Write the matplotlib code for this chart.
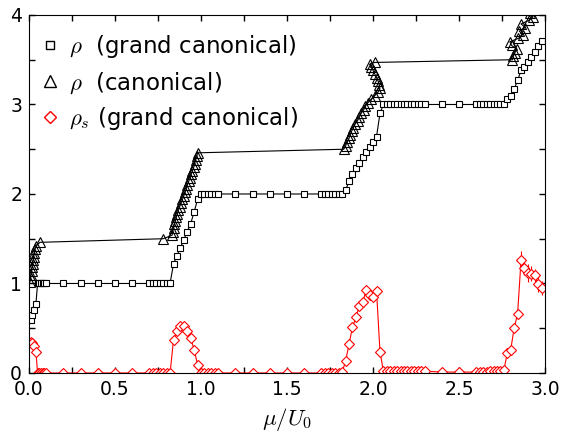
import numpy as np
import matplotlib
matplotlib.use("Agg")
import matplotlib.pyplot as plt
from matplotlib.lines import Line2D
from matplotlib.ticker import MultipleLocator

plt.rcParams["mathtext.fontset"] = "cm"
plt.rcParams["font.family"] = "DejaVu Sans"

# --- Grand canonical data (mu, rho, rho_s) --- #
mu_gc = [0.01, 0.02, 0.03, 0.04,
         0.05, 0.06, 0.07, 0.08, 0.09, 0.10,
         0.2, 0.3, 0.4, 0.5, 0.6,
         0.70, 0.72, 0.74, 0.76, 0.78, 0.80, 0.82,
         0.84, 0.86, 0.88, 0.90, 0.92, 0.94, 0.96, 0.98,
         1.00, 1.02, 1.04, 1.06, 1.08, 1.10,
         1.2, 1.3, 1.4, 1.5, 1.6,
         1.70, 1.72, 1.74, 1.76, 1.78, 1.80, 1.82,
         1.84, 1.86, 1.88, 1.90, 1.92, 1.94, 1.96, 1.98, 2.00, 2.02, 2.04,
         2.06, 2.08, 2.10, 2.12, 2.14, 2.16, 2.18, 2.20, 2.22, 2.24, 2.26, 2.28, 2.30,
         2.4, 2.5,
         2.60, 2.62, 2.64, 2.66, 2.68, 2.70, 2.72, 2.74, 2.76,
         2.78, 2.80, 2.82, 2.84, 2.86, 2.88, 2.90, 2.92, 2.94, 2.96, 2.98]

rho_gc = [0.59, 0.65, 0.70, 0.77,
          1.0, 1.0, 1.0, 1.0, 1.0, 1.0,
          1.0, 1.0, 1.0, 1.0, 1.0,
          1.0, 1.0, 1.0, 1.0, 1.0, 1.0, 1.0,
          1.22, 1.31, 1.40, 1.49, 1.58, 1.67, 1.80, 1.94,
          2.0, 2.0, 2.0, 2.0, 2.0, 2.0,
          2.0, 2.0, 2.0, 2.0, 2.0,
          2.0, 2.0, 2.0, 2.0, 2.0, 2.0, 2.0,
          2.04, 2.14, 2.22, 2.29, 2.35, 2.41, 2.47, 2.53, 2.58, 2.64, 2.90,
          3.0, 3.0, 3.0, 3.0, 3.0, 3.0, 3.0, 3.0, 3.0, 3.0, 3.0, 3.0, 3.0,
          3.0, 3.0,
          3.0, 3.0, 3.0, 3.0, 3.0, 3.0, 3.0, 3.0, 3.0,
          3.06, 3.10, 3.17, 3.27, 3.38, 3.42, 3.48, 3.53, 3.59, 3.65, 3.71]

rho_s = [0.35, 0.33, 0.30, 0.24,
         0.0, 0.0, 0.0, 0.0, 0.0, 0.0,
         0.0, 0.0, 0.0, 0.0, 0.0,
         0.0, 0.0, 0.0, 0.0, 0.0, 0.0, 0.0,
         0.37, 0.47, 0.52, 0.52, 0.47, 0.39, 0.26, 0.09,
         0.0, 0.0, 0.0, 0.0, 0.0, 0.0,
         0.0, 0.0, 0.0, 0.0, 0.0,
         0.0, 0.0, 0.0, 0.0, 0.0, 0.0, 0.01,
         0.13, 0.32, 0.51, 0.62, 0.75, 0.79, 0.93, 0.87, 0.85, 0.92, 0.24,
         0.02, 0.02, 0.02, 0.02, 0.02, 0.02, 0.02, 0.02, 0.02, 0.02, 0.02, 0.02, 0.02,
         0.01, 0.01,
         0.01, 0.01, 0.01, 0.01, 0.02, 0.02, 0.02, 0.02, 0.03,
         0.22, 0.26, 0.50, 0.66, 1.26, 1.17, 1.12, 1.11, 1.09, 0.99, 0.95]

rho_s_err = [0.0] * 83 + [0.0, 0.0, 0.0, 0.0, 0.10, 0.08, 0.10, 0.08, 0.07, 0.08, 0.08]

# --- Canonical data (mu, rho) --- #
mu_c = [0.006, 0.009, 0.012, 0.015, 0.018, 0.021, 0.024, 0.027, 0.030, 0.034, 0.042, 0.064,
        0.78, 0.832, 0.836, 0.840, 0.845, 0.850, 0.856, 0.862, 0.868, 0.876, 0.884, 0.892,
        0.900, 0.907, 0.914, 0.920, 0.928, 0.936, 0.942, 0.950, 0.958, 0.962, 0.968, 0.975, 0.980,
        1.83, 1.840, 1.850, 1.860, 1.866, 1.875, 1.885, 1.895, 1.910, 1.920, 1.930, 1.945,
        1.955, 1.970, 1.990, 2.010, 2.030, 2.040, 2.035, 2.030, 2.020, 2.010, 2.000, 1.990,
        1.980, 2.010,
        2.81, 2.815, 2.825, 2.835, 2.805, 2.795, 2.845, 2.870, 2.850, 2.885, 2.860, 2.905,
        2.930, 2.915]

rho_c = [1.02, 1.06, 1.10, 1.14, 1.18, 1.22, 1.26, 1.30, 1.34, 1.38, 1.42, 1.46,
         1.50, 1.54, 1.58, 1.62, 1.66, 1.70, 1.74, 1.78, 1.82, 1.86, 1.90, 1.94,
         1.98, 2.02, 2.06, 2.10, 2.14, 2.18, 2.22, 2.26, 2.30, 2.34, 2.38, 2.42, 2.46,
         2.50, 2.54, 2.58, 2.62, 2.66, 2.70, 2.74, 2.78, 2.82, 2.86, 2.90, 2.94,
         2.98, 3.02, 3.06, 3.10, 3.14, 3.18, 3.22, 3.26, 3.30, 3.34, 3.38, 3.42,
         3.45, 3.47,
         3.50, 3.54, 3.58, 3.62, 3.66, 3.70, 3.74, 3.78, 3.82, 3.86, 3.90, 3.94,
         3.98, 4.02]

# --- Plot --- #
fig = plt.figure(figsize=(5.72, 4.37), dpi=100)
ax = fig.add_axes([0.0507, 0.1465, 0.9023, 0.8192])

ax.plot(mu_gc, rho_gc, "-", color="black", lw=0.8, marker="s", ms=5,
        mfc="white", mec="black", mew=0.8)
ax.plot(mu_c, rho_c, "-", color="black", lw=0.8, marker="^", ms=7.5,
        mfc="none", mec="black", mew=0.8)
ax.errorbar(mu_gc, rho_s, yerr=rho_s_err, fmt="-", color="red", lw=0.8,
            marker="D", ms=5, mfc="white", mec="red", mew=0.8, elinewidth=0.8, capsize=0)

ax.set_xlim(0, 3)
ax.set_ylim(0, 4)
ax.xaxis.set_major_locator(MultipleLocator(0.5))
ax.xaxis.set_minor_locator(MultipleLocator(0.25))
ax.yaxis.set_major_locator(MultipleLocator(1))
ax.yaxis.set_minor_locator(MultipleLocator(0.5))
ax.tick_params(which="both", direction="in", top=True, right=True, length=4, width=1)
ax.tick_params(labelsize=13.5, pad=5)
ax.set_xlabel(r"$\mu/U_0$", fontsize=16.5, labelpad=5)

handles = [Line2D([], [], ls="none", marker="s", ms=6, mfc="white", mec="black"),
           Line2D([], [], ls="none", marker="^", ms=8, mfc="white", mec="black"),
           Line2D([], [], ls="none", marker="D", ms=6.5, mfc="white", mec="red")]
labels = [r"$\rho$  (grand canonical)", r"$\rho$  (canonical)", r"$\rho_s$ (grand canonical)"]
ax.legend(handles, labels, loc="upper left", frameon=False, fontsize=16.5,
          handlelength=0.2, handletextpad=0.75, labelspacing=0.42,
          borderaxespad=0.4, borderpad=0.4)

plt.savefig("out.png", dpi=100)
